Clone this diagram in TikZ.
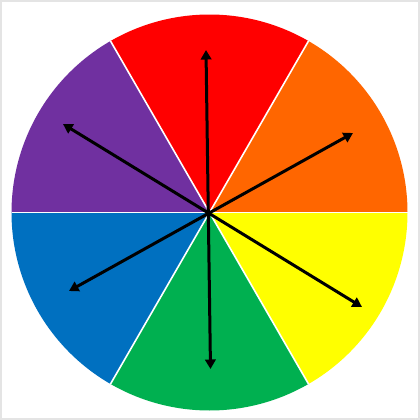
\documentclass[tikz,border=0pt]{standalone}
\usetikzlibrary{arrows.meta}
\definecolor{wred}{HTML}{FF0000}
\definecolor{worange}{HTML}{FF6600}
\definecolor{wyellow}{HTML}{FFFF00}
\definecolor{wgreen}{HTML}{00B050}
\definecolor{wblue}{HTML}{0070C0}
\definecolor{wpurple}{HTML}{7030A0}
\definecolor{frame}{HTML}{E4E4E4}
\tikzset{
  sector/.style={draw=none},
  divider/.style={draw=white, line width=1.6pt},
  dblarrow/.style={draw=black, line width=3pt, {Triangle[length=9.5pt,width=10.5pt]}-{Triangle[length=9.5pt,width=10.5pt]}},
}
\begin{document}
\begin{tikzpicture}[x=1pt,y=-1pt]
\useasboundingbox (0,0) rectangle (420,420);
\fill[white] (0,0) rectangle (420,420);
\draw[frame, line width=2pt] (1,1) rectangle (419,419);
\coordinate (c) at (209.5,212.5);
\def\R{198}
\foreach \a/\b/\col in {0/60/worange, 60/120/wred, 120/180/wpurple, 180/240/wblue, 240/300/wgreen, 300/360/wyellow}{
  \fill[\col, sector] (c) -- ++(-\a:\R) arc[start angle=-\a, end angle=-\b, radius=\R] -- cycle;
}
\foreach \a in {0,60,120,180,240,300}{
  \draw[divider] (c) -- ++(-\a:\R);
}
\coordinate (t1) at (206,50);
\coordinate (t2) at (210.5,369);
\coordinate (t3) at (63,124);
\coordinate (t4) at (362,307);
\coordinate (t5) at (69,291);
\coordinate (t6) at (353,133);
\draw[dblarrow] (t1) -- (t2);
\draw[dblarrow] (t3) -- (t4);
\draw[dblarrow] (t5) -- (t6);
\end{tikzpicture}
\end{document}
